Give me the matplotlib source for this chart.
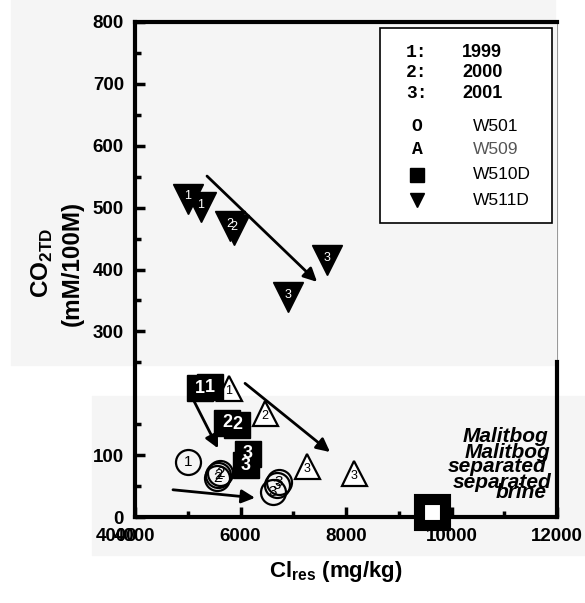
import matplotlib.pyplot as plt
from matplotlib.patches import Rectangle

plt.rcParams['font.family'] = ['Liberation Sans', 'DejaVu Sans']
plt.rcParams['mathtext.fontset'] = 'custom'
plt.rcParams['mathtext.rm'] = 'Liberation Sans:bold'
plt.rcParams['mathtext.bf'] = 'Liberation Sans:bold'

# W501 (open circles)
w501_x = [5005, 5574, 5612, 5555, 6692, 6617, 6730]
w501_y = [89, 68, 71, 63, 52, 40, 57]
w501_yr = ['1', '2', '2', '2', '3', '3', '3']

# W509 (open triangles)
w509_x = [5782, 6465, 7261, 8152]
w509_y = [208, 168, 82, 71]
w509_yr = ['1', '2', '3', '3']

# W510D (black squares)
w510_x = [5232, 5422, 5744, 5934, 6142, 6105]
w510_y = [208, 210, 152, 149, 102, 84]
w510_yr = ['1', '1', '2', '2', '3', '3']

# W511D (black down triangles)
w511_x = [5005, 5251, 5801, 5877, 7640, 6901]
w511_y = [514, 501, 470, 464, 415, 355]
w511_yr = ['1', '1', '2', '2', '3', '3']

# Malitbog separated brine
brine_x = [9631]
brine_y = [8]

# trend arrows (start, end)
arrow_start = [(5365, 551), (5043, 200), (6086, 216), (4720, 44)]
arrow_end = [(7451, 380), (5574, 111), (7697, 105), (6275, 31)]

yticks = [0, 100, 300, 400, 500, 600, 700, 800]
yminor = [50, 150, 250, 350, 450, 550, 650, 750]
xticks = [4000, 6000, 8000, 10000, 12000]
xminor = [5000, 7000, 9000, 11000]

W, H = 585, 603
gray = '#f5f5f5'


def fx(px):
    return px / W


def fy(py):
    return 1 - py / H


fig = plt.figure(figsize=(W / 100, H / 100), dpi=100)
fig.patch.set_facecolor('white')
fig.patches.append(Rectangle((fx(11), fy(365)), fx(555) - fx(11), 365 / H,
                             transform=fig.transFigure, color=gray, zorder=-10))
fig.patches.append(Rectangle((fx(92), fy(555)), fx(585) - fx(92), (555 - 396) / H,
                             transform=fig.transFigure, color=gray, zorder=-10))

ax = fig.add_axes([135 / W, 86 / H, 422 / W, 495 / H])
ax.set_facecolor('none')
ax.set_xlim(4000, 12000)
ax.set_ylim(0, 800)

# markers
ax.plot(w501_x, w501_y, 'o', ms=18, mfc='none', mec='black', mew=1.6, zorder=3)
ax.plot(w509_x, w509_y, '^', ms=18, mfc='white', mec='black', mew=1.6, zorder=3)
ax.plot(w510_x, w510_y, 's', ms=19, mfc='black', mec='black', zorder=3)
ax.plot(w511_x, w511_y, 'v', ms=21, mfc='black', mec='black', zorder=3)
ax.plot(brine_x, brine_y, 's', ms=19, mfc='white', mec='black', mew=8,
        zorder=6, clip_on=False)

for x, y, t in zip(w501_x, w501_y, w501_yr):
    ax.text(x, y, t, ha='center', va='center', fontsize=11, color='black', zorder=4)
for x, y, t in zip(w509_x, w509_y, w509_yr):
    ax.text(x, y - 4, t, ha='center', va='center', fontsize=9, color='black', zorder=4)
for x, y, t in zip(w510_x, w510_y, w510_yr):
    ax.text(x, y, t, ha='center', va='center', fontsize=13, color='white',
            fontweight='bold', zorder=4)
for x, y, t in zip(w511_x, w511_y, w511_yr):
    ax.text(x, y + 4, t, ha='center', va='center', fontsize=9, color='white', zorder=4)

for (x0, y0), (x1, y1) in zip(arrow_start, arrow_end):
    ax.annotate('', xy=(x1, y1), xytext=(x0, y0),
                arrowprops=dict(arrowstyle='-|>', lw=2, color='black',
                                mutation_scale=20, shrinkA=0, shrinkB=0),
                zorder=5)

# axes styling
for s in ['left', 'bottom', 'top']:
    ax.spines[s].set_linewidth(3)
ax.spines['right'].set_linewidth(3)
ax.spines['right'].set_bounds(0, 250)
ax.plot([12000, 12000], [250, 800], color='#999999', lw=0.8, clip_on=False)

ax.set_xticks(xticks)
ax.set_xticks(xminor, minor=True)
ax.set_yticks(yticks)
ax.set_yticks(yminor, minor=True)
ax.tick_params(which='both', direction='in', width=2.5, labelsize=13.5, pad=8)
ax.tick_params(which='major', length=7)
ax.tick_params(which='minor', length=4.5)
for lab in ax.get_xticklabels() + ax.get_yticklabels():
    lab.set_fontweight('bold')
ax.annotate('4000', xy=(4000, 0), xytext=(-13, -8), textcoords='offset points',
            ha='center', va='top', fontsize=13.5, fontweight='bold',
            annotation_clip=False)

# legend box
ax.add_patch(Rectangle((0.581, 0.594), 0.407, 0.394, transform=ax.transAxes,
                       facecolor='white', edgecolor='black', lw=1.2, zorder=7))
leg_y = [0.939, 0.897, 0.855, 0.788, 0.743, 0.691, 0.640]
years = ['1999', '2000', '2001']
for i, yr in enumerate(years):
    ax.text(0.668, leg_y[i], f'{i + 1}:', transform=ax.transAxes, ha='center',
            va='center', fontsize=13, fontweight='bold',
            family='Liberation Mono', zorder=8)
    ax.text(0.775, leg_y[i], yr, transform=ax.transAxes, ha='left', va='center',
            fontsize=13, fontweight='bold', zorder=8)
ax.text(0.668, leg_y[3], 'O', transform=ax.transAxes, ha='center', va='center',
        fontsize=13, fontweight='bold', family='Liberation Mono', zorder=8)
ax.text(0.668, leg_y[4], 'A', transform=ax.transAxes, ha='center', va='center',
        fontsize=13, fontweight='bold', family='Liberation Mono', zorder=8)
ax.plot([0.668], [leg_y[5]], 's', ms=9.5, color='black', transform=ax.transAxes,
        zorder=8, clip_on=False)
ax.plot([0.668], [leg_y[6]], 'v', ms=10, color='black', transform=ax.transAxes,
        zorder=8, clip_on=False)
wells = ['W501', 'W509', 'W510D', 'W511D']
well_col = ['black', '#555555', 'black', 'black']
for i, (w, c) in enumerate(zip(wells, well_col)):
    ax.text(0.801, leg_y[3 + i], w, transform=ax.transAxes, ha='left',
            va='center', fontsize=12.5, color=c, zorder=8)

# brine note (doubled as in the scan)
note_kw = dict(ha='right', va='center', fontsize=15, fontweight='bold',
               style='italic', color='black')
fig.text(fx(550), fy(453), 'Malitbog', **note_kw)
fig.text(fx(552), fy(483), 'separated', **note_kw)
fig.text(fx(548), fy(437), 'Malitbog', **note_kw)
fig.text(fx(547), fy(467), 'separated', **note_kw)
fig.text(fx(547), fy(492), 'brine', **note_kw)

# axis labels
fig.text(fx(57), fy(263), 'CO$_{\\mathrm{2TD}}$\n(mM/100M)', rotation=90,
         ha='center', va='center', fontsize=17.5, fontweight='bold',
         linespacing=1.3, multialignment='center')
fig.text(fx(336), fy(572), 'Cl$_{\\mathrm{res}}$ (mg/kg)', ha='center',
         va='center', fontsize=16, fontweight='bold')

fig.savefig('out.png', dpi=100)
